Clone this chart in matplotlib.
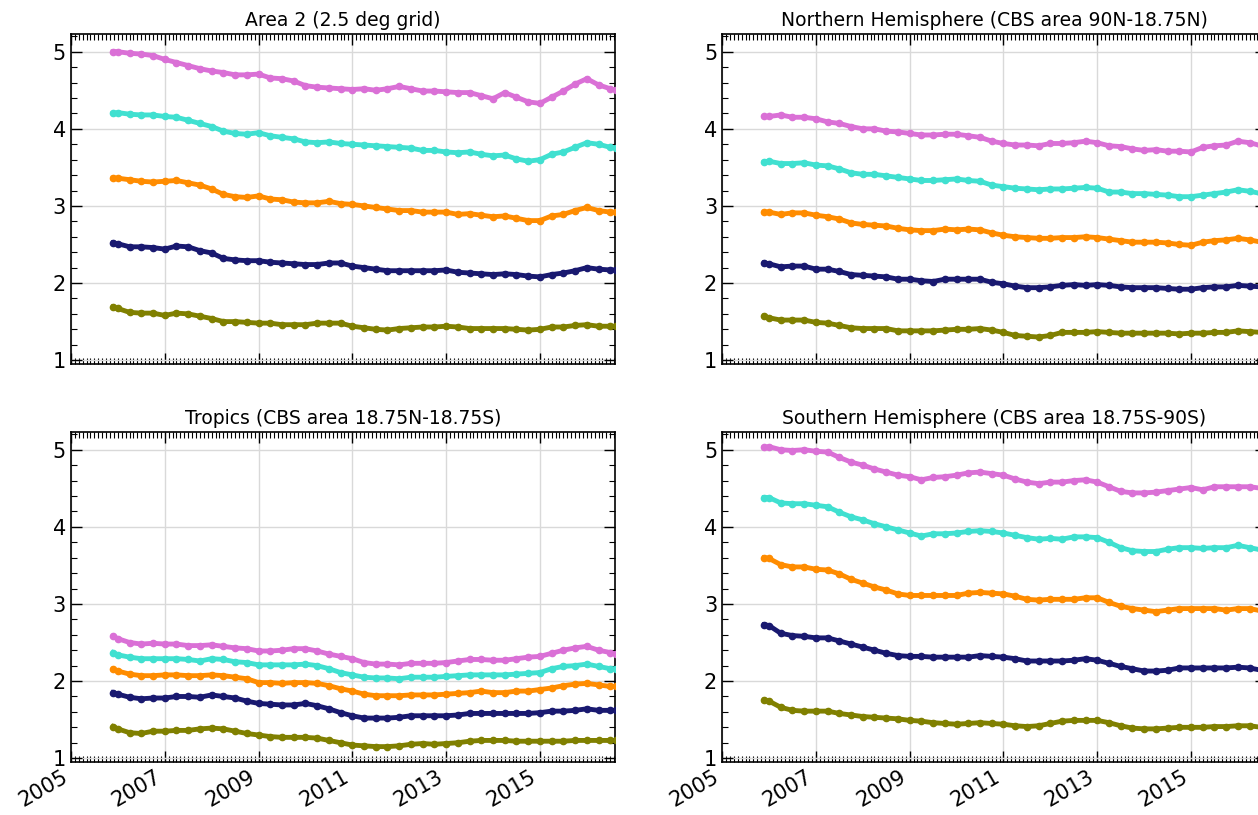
import matplotlib
matplotlib.use("Agg")
import matplotlib.pyplot as plt
import numpy as np
from matplotlib.ticker import MultipleLocator, FixedLocator

# sample times (decimal years): first point, quarterly points, last point
years = np.concatenate([[2005.9], np.arange(2006.0, 2016.51, 0.25), [2016.62]])

colors = ['orchid', 'turquoise', 'darkorange', 'midnightblue', 'olive']

titles = ['Area 2 (2.5 deg grid)',
          'Northern Hemisphere (CBS area 90N-18.75N)',
          'Tropics (CBS area 18.75N-18.75S)',
          'Southern Hemisphere (CBS area 18.75S-90S)']

# Area 2
a2_violet = [5.00, 5.00, 4.98, 4.97, 4.95, 4.90, 4.86, 4.82, 4.78, 4.75, 4.73, 4.70, 4.70, 4.71, 4.66,
             4.65, 4.62, 4.56, 4.54, 4.53, 4.52, 4.51, 4.52, 4.50, 4.52, 4.55, 4.52, 4.49, 4.49, 4.48,
             4.47, 4.47, 4.43, 4.39, 4.47, 4.41, 4.35, 4.33, 4.41, 4.49, 4.58, 4.65, 4.57, 4.52, 4.50]
a2_turq = [4.20, 4.21, 4.19, 4.18, 4.18, 4.16, 4.15, 4.11, 4.07, 4.03, 3.97, 3.94, 3.93, 3.95, 3.91,
           3.89, 3.87, 3.83, 3.82, 3.83, 3.81, 3.80, 3.79, 3.78, 3.77, 3.76, 3.75, 3.72, 3.72, 3.70,
           3.69, 3.70, 3.67, 3.65, 3.66, 3.61, 3.58, 3.60, 3.67, 3.70, 3.76, 3.82, 3.80, 3.76, 3.75]
a2_orange = [3.36, 3.36, 3.34, 3.32, 3.31, 3.32, 3.33, 3.30, 3.27, 3.22, 3.15, 3.12, 3.11, 3.13, 3.09,
             3.08, 3.05, 3.04, 3.04, 3.06, 3.03, 3.02, 3.00, 2.98, 2.96, 2.94, 2.94, 2.92, 2.92, 2.92,
             2.89, 2.90, 2.88, 2.86, 2.87, 2.84, 2.81, 2.81, 2.87, 2.89, 2.94, 2.98, 2.94, 2.92, 2.92]
a2_navy = [2.52, 2.51, 2.47, 2.47, 2.46, 2.44, 2.48, 2.47, 2.42, 2.39, 2.32, 2.30, 2.29, 2.29, 2.27,
           2.26, 2.25, 2.24, 2.24, 2.26, 2.26, 2.22, 2.20, 2.18, 2.16, 2.16, 2.16, 2.16, 2.16, 2.17,
           2.14, 2.13, 2.12, 2.11, 2.12, 2.11, 2.09, 2.08, 2.11, 2.13, 2.16, 2.20, 2.18, 2.17, 2.17]
a2_olive = [1.69, 1.67, 1.62, 1.61, 1.61, 1.58, 1.61, 1.60, 1.57, 1.54, 1.50, 1.50, 1.49, 1.48, 1.48,
            1.46, 1.46, 1.46, 1.48, 1.48, 1.48, 1.44, 1.42, 1.40, 1.39, 1.41, 1.42, 1.43, 1.43, 1.44,
            1.43, 1.41, 1.41, 1.41, 1.41, 1.40, 1.39, 1.40, 1.43, 1.43, 1.45, 1.46, 1.44, 1.44, 1.44]

# Northern Hemisphere
nh_violet = [4.16, 4.16, 4.18, 4.15, 4.15, 4.13, 4.09, 4.07, 4.03, 4.00, 4.00, 3.97, 3.96, 3.94, 3.92,
             3.92, 3.93, 3.93, 3.91, 3.89, 3.84, 3.81, 3.79, 3.79, 3.78, 3.81, 3.81, 3.82, 3.84, 3.82,
             3.78, 3.77, 3.74, 3.72, 3.73, 3.71, 3.71, 3.70, 3.76, 3.78, 3.79, 3.84, 3.82, 3.78, 3.77]
nh_turq = [3.57, 3.58, 3.55, 3.55, 3.56, 3.53, 3.52, 3.48, 3.43, 3.41, 3.41, 3.39, 3.37, 3.35, 3.33,
           3.33, 3.34, 3.35, 3.33, 3.32, 3.27, 3.25, 3.23, 3.22, 3.21, 3.22, 3.22, 3.23, 3.24, 3.23,
           3.18, 3.18, 3.16, 3.16, 3.15, 3.14, 3.12, 3.12, 3.14, 3.16, 3.18, 3.21, 3.19, 3.16, 3.16]
nh_orange = [2.92, 2.92, 2.89, 2.91, 2.91, 2.88, 2.86, 2.83, 2.78, 2.76, 2.75, 2.74, 2.71, 2.69, 2.68,
             2.68, 2.70, 2.69, 2.70, 2.69, 2.65, 2.62, 2.60, 2.59, 2.58, 2.58, 2.59, 2.59, 2.60, 2.59,
             2.57, 2.55, 2.53, 2.53, 2.53, 2.52, 2.50, 2.49, 2.53, 2.55, 2.56, 2.58, 2.56, 2.53, 2.53]
nh_navy = [2.26, 2.25, 2.21, 2.22, 2.22, 2.18, 2.18, 2.15, 2.11, 2.10, 2.09, 2.08, 2.05, 2.05, 2.03,
           2.02, 2.05, 2.05, 2.05, 2.05, 2.01, 1.99, 1.96, 1.94, 1.94, 1.95, 1.97, 1.98, 1.97, 1.98,
           1.97, 1.95, 1.94, 1.94, 1.94, 1.93, 1.92, 1.92, 1.94, 1.95, 1.95, 1.97, 1.96, 1.95, 1.95]
nh_olive = [1.57, 1.55, 1.52, 1.52, 1.52, 1.49, 1.48, 1.45, 1.42, 1.41, 1.41, 1.41, 1.38, 1.38, 1.38,
            1.38, 1.39, 1.40, 1.40, 1.41, 1.39, 1.36, 1.32, 1.31, 1.30, 1.32, 1.36, 1.36, 1.36, 1.37,
            1.36, 1.35, 1.35, 1.35, 1.35, 1.35, 1.34, 1.35, 1.35, 1.36, 1.36, 1.38, 1.37, 1.36, 1.36]

# Tropics
tr_violet = [2.58, 2.55, 2.50, 2.48, 2.49, 2.48, 2.48, 2.46, 2.46, 2.47, 2.45, 2.43, 2.42, 2.39, 2.39,
             2.40, 2.42, 2.42, 2.39, 2.35, 2.32, 2.29, 2.24, 2.22, 2.22, 2.21, 2.23, 2.23, 2.23, 2.24,
             2.26, 2.28, 2.28, 2.27, 2.27, 2.29, 2.31, 2.32, 2.36, 2.40, 2.43, 2.45, 2.40, 2.37, 2.35]
tr_turq = [2.37, 2.34, 2.31, 2.29, 2.29, 2.29, 2.29, 2.28, 2.26, 2.29, 2.28, 2.25, 2.24, 2.21, 2.21,
           2.21, 2.21, 2.22, 2.20, 2.16, 2.11, 2.08, 2.05, 2.04, 2.04, 2.03, 2.05, 2.05, 2.05, 2.06,
           2.07, 2.08, 2.08, 2.08, 2.08, 2.09, 2.10, 2.11, 2.16, 2.19, 2.20, 2.22, 2.19, 2.16, 2.16]
tr_orange = [2.15, 2.13, 2.09, 2.07, 2.07, 2.08, 2.08, 2.07, 2.07, 2.08, 2.07, 2.05, 2.03, 1.98, 1.98,
             1.97, 1.98, 1.98, 1.97, 1.94, 1.90, 1.87, 1.83, 1.81, 1.81, 1.81, 1.82, 1.82, 1.82, 1.83,
             1.84, 1.85, 1.87, 1.85, 1.85, 1.87, 1.87, 1.89, 1.91, 1.94, 1.96, 1.97, 1.95, 1.93, 1.93]
tr_navy = [1.85, 1.83, 1.79, 1.77, 1.78, 1.78, 1.80, 1.80, 1.79, 1.82, 1.80, 1.78, 1.74, 1.71, 1.70,
           1.69, 1.69, 1.71, 1.68, 1.64, 1.59, 1.55, 1.52, 1.52, 1.52, 1.53, 1.55, 1.55, 1.55, 1.55,
           1.56, 1.58, 1.58, 1.58, 1.58, 1.58, 1.58, 1.59, 1.61, 1.61, 1.62, 1.64, 1.62, 1.62, 1.62]
tr_olive = [1.41, 1.38, 1.33, 1.32, 1.35, 1.35, 1.36, 1.36, 1.38, 1.39, 1.38, 1.35, 1.32, 1.30, 1.28,
            1.27, 1.27, 1.27, 1.26, 1.23, 1.20, 1.17, 1.16, 1.15, 1.15, 1.16, 1.18, 1.19, 1.18, 1.19,
            1.20, 1.22, 1.23, 1.23, 1.23, 1.22, 1.22, 1.22, 1.22, 1.22, 1.23, 1.23, 1.23, 1.23, 1.23]

# Southern Hemisphere
sh_violet = [5.03, 5.04, 5.00, 4.99, 5.00, 4.98, 4.97, 4.90, 4.84, 4.80, 4.75, 4.71, 4.67, 4.65, 4.61,
             4.64, 4.65, 4.67, 4.70, 4.71, 4.69, 4.67, 4.62, 4.58, 4.56, 4.58, 4.58, 4.60, 4.61, 4.58,
             4.52, 4.46, 4.44, 4.44, 4.45, 4.47, 4.49, 4.51, 4.48, 4.52, 4.52, 4.52, 4.52, 4.50, 4.50]
sh_turq = [4.38, 4.38, 4.31, 4.30, 4.30, 4.28, 4.26, 4.19, 4.13, 4.09, 4.04, 4.00, 3.96, 3.92, 3.88,
           3.91, 3.91, 3.92, 3.94, 3.95, 3.94, 3.92, 3.89, 3.86, 3.84, 3.85, 3.84, 3.87, 3.87, 3.86,
           3.80, 3.73, 3.69, 3.68, 3.68, 3.71, 3.73, 3.73, 3.72, 3.73, 3.73, 3.76, 3.73, 3.70, 3.70]
sh_orange = [3.60, 3.59, 3.51, 3.48, 3.48, 3.45, 3.44, 3.39, 3.32, 3.27, 3.22, 3.18, 3.13, 3.11, 3.11,
             3.11, 3.11, 3.11, 3.14, 3.15, 3.14, 3.13, 3.10, 3.06, 3.05, 3.06, 3.06, 3.06, 3.08, 3.08,
             3.02, 2.97, 2.94, 2.92, 2.90, 2.92, 2.94, 2.94, 2.94, 2.94, 2.92, 2.94, 2.94, 2.91, 2.91]
sh_navy = [2.73, 2.72, 2.62, 2.59, 2.58, 2.56, 2.56, 2.52, 2.48, 2.44, 2.40, 2.36, 2.33, 2.32, 2.32,
           2.31, 2.31, 2.31, 2.31, 2.33, 2.32, 2.31, 2.29, 2.26, 2.26, 2.26, 2.26, 2.27, 2.29, 2.27,
           2.23, 2.19, 2.16, 2.13, 2.13, 2.14, 2.17, 2.17, 2.17, 2.17, 2.17, 2.18, 2.17, 2.14, 2.14]
sh_olive = [1.75, 1.74, 1.66, 1.62, 1.61, 1.61, 1.61, 1.58, 1.56, 1.54, 1.53, 1.52, 1.51, 1.49, 1.48,
            1.46, 1.45, 1.44, 1.45, 1.46, 1.45, 1.44, 1.42, 1.41, 1.42, 1.45, 1.48, 1.49, 1.49, 1.49,
            1.46, 1.42, 1.39, 1.38, 1.38, 1.39, 1.40, 1.40, 1.40, 1.41, 1.41, 1.42, 1.42, 1.40, 1.40]

panels = [[a2_violet, a2_turq, a2_orange, a2_navy, a2_olive],
          [nh_violet, nh_turq, nh_orange, nh_navy, nh_olive],
          [tr_violet, tr_turq, tr_orange, tr_navy, tr_olive],
          [sh_violet, sh_turq, sh_orange, sh_navy, sh_olive]]

fig, axes = plt.subplots(2, 2, figsize=(12.58, 8.15), dpi=100, sharex=True, sharey=True)
fig.subplots_adjust(left=0.0564, right=1.0064, bottom=0.065, top=0.9583,
                    wspace=0.197, hspace=0.206)

for ax, series, title in zip(axes.flat, panels, titles):
    for vals, c in zip(series, colors):
        ax.plot(years, vals, '-o', color=c, lw=3.5, ms=4.5, mec=c, zorder=3)
    ax.set_title(title, fontsize=13.5, pad=6)
    ax.grid(True, color='#d9d9d9', lw=1, zorder=0)
    ax.set_axisbelow(True)
    ax.xaxis.set_major_locator(FixedLocator([2005, 2007, 2009, 2011, 2013, 2015]))
    ax.xaxis.set_minor_locator(MultipleLocator(1 / 12))
    ax.yaxis.set_major_locator(MultipleLocator(1))
    ax.yaxis.set_minor_locator(MultipleLocator(0.2))
    ax.tick_params(which='both', direction='in', top=True, right=True,
                   labelleft=True, labelsize=15)
    ax.tick_params(which='major', length=8, width=1)
    ax.tick_params(which='minor', length=4, width=0.8)
    for s in ax.spines.values():
        s.set_linewidth(1.2)

axes[0, 0].set_xlim(2005, 2016.6)
axes[0, 0].set_ylim(0.95, 5.23)

for ax in axes[1]:
    ax.set_xticklabels(['2005', '2007', '2009', '2011', '2013', '2015'],
                       rotation=30, ha='right')

fig.savefig('out.png', dpi=100, facecolor='white')
